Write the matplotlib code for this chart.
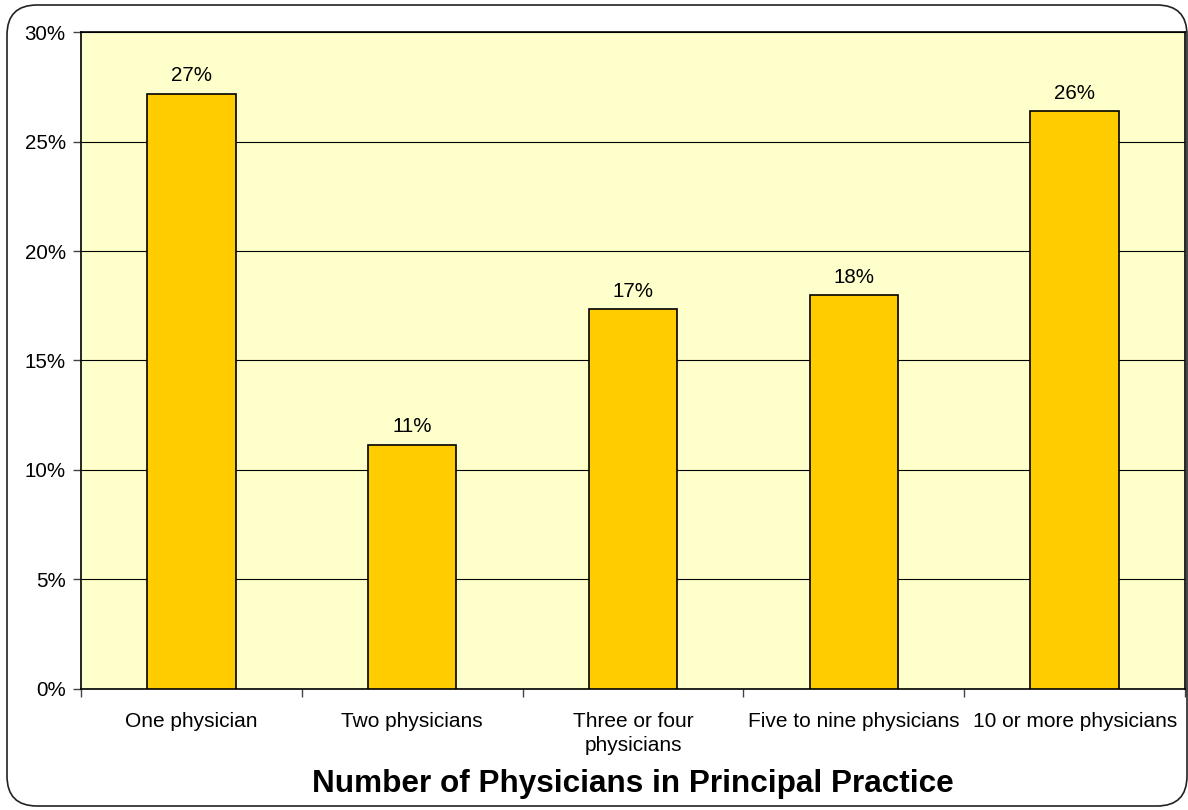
import matplotlib
matplotlib.use("Agg")
import matplotlib.pyplot as plt
from matplotlib.patches import FancyBboxPatch
from matplotlib.ticker import FixedLocator, PercentFormatter

categories = ["One physician", "Two physicians", "Three or four\nphysicians",
              "Five to nine physicians", "10 or more physicians"]
shares = [27.2, 11.15, 17.35, 18.0, 26.4]
labels = ["27%", "11%", "17%", "18%", "26%"]

plt.rcParams['font.family'] = ['Liberation Sans', 'DejaVu Sans']

fig = plt.figure(figsize=(11.88, 8.10), dpi=100)
ax = fig.add_axes([0.0682, 0.1498, 0.9293, 0.8103])

x = range(len(categories))
ax.set_facecolor("#FFFFCC")
ax.bar(x, shares, width=0.40, color="#FFCC00", edgecolor="black", linewidth=1.2, zorder=3)
for i, (v, t) in enumerate(zip(shares, labels)):
    ax.annotate(t, (i, v), xytext=(0, 6), textcoords="offset points",
                ha="center", va="bottom", fontsize=14.8, zorder=4)

ax.set_xlim(-0.5, 4.5)
ax.set_ylim(0, 30)
ax.set_yticks(range(0, 31, 5))
ax.yaxis.set_major_formatter(PercentFormatter(decimals=0))
ax.grid(axis="y", color="black", linewidth=0.8, zorder=1)
ax.set_axisbelow(True)

ax.set_xticks(list(x))
ax.set_xticklabels(categories, fontsize=15, linespacing=1.3)
ax.xaxis.set_minor_locator(FixedLocator([-0.5, 0.5, 1.5, 2.5, 3.5, 4.5]))
ax.tick_params(axis="x", which="major", length=0, pad=17)
ax.tick_params(axis="x", which="minor", length=6, width=1, color="#444444")
ax.tick_params(axis="y", length=6, width=1, labelsize=14.8, pad=5, color="#444444")
for s in ax.spines.values():
    s.set_color("black")
    s.set_linewidth(1.2)

ax.set_xlabel("Number of Physicians in Principal Practice", fontsize=22.7,
              fontweight="bold", labelpad=10)

frame = FancyBboxPatch((7, 4), 1180, 801, boxstyle="round,pad=0,rounding_size=30",
                       transform=None, facecolor="none", edgecolor="#222222",
                       linewidth=1.2, zorder=10)
fig.patches.append(frame)

fig.savefig("out.png", dpi=100)
